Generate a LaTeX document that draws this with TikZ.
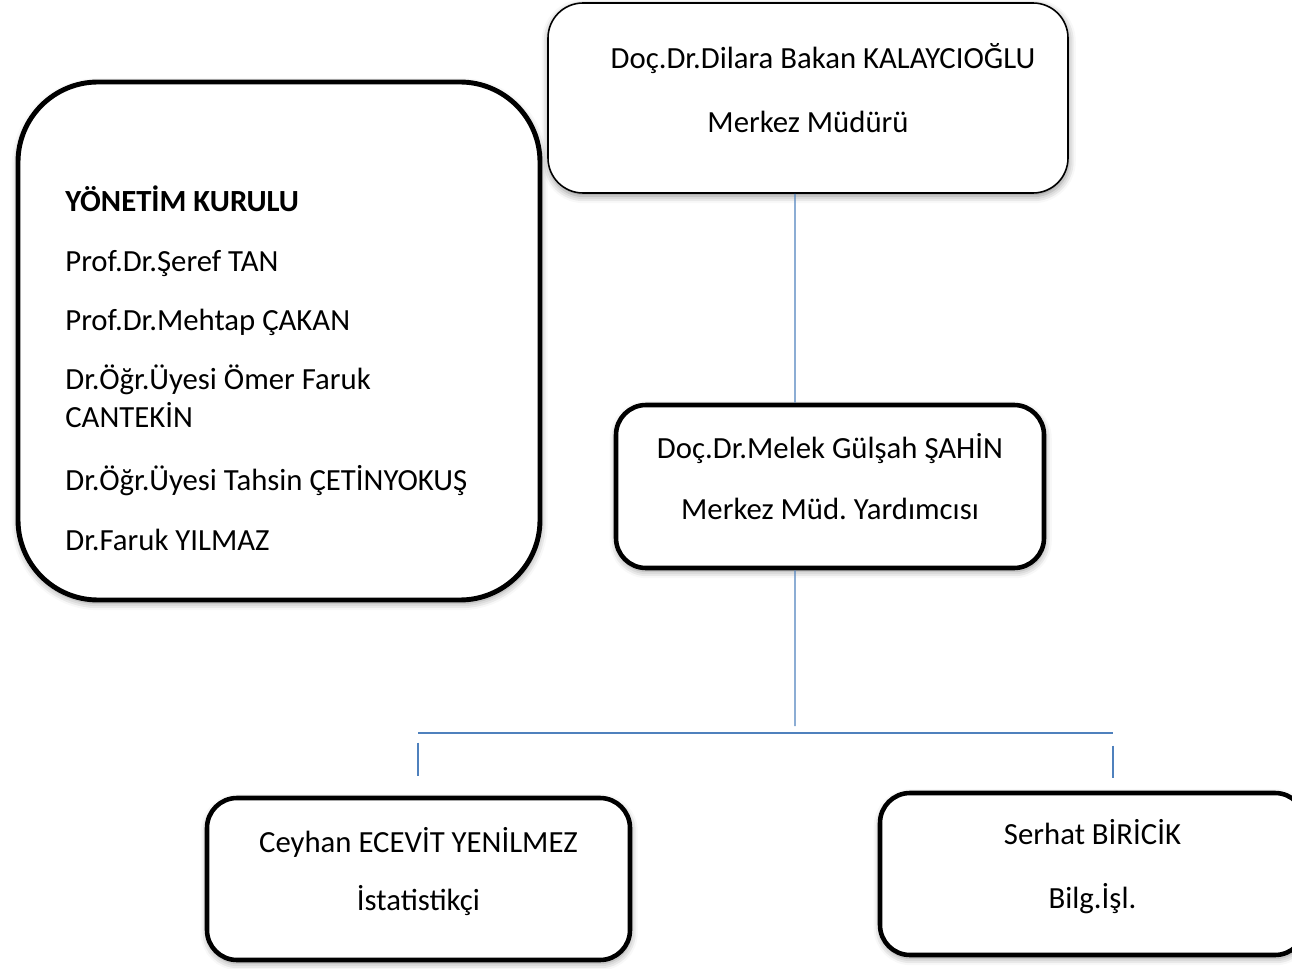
\documentclass[tikz,border=0pt]{standalone}
\usepackage{xcolor}
\usepackage{fontspec}
\setmainfont{Carlito}
\usepackage{tikz}
\usetikzlibrary{positioning, shadows.blur}

\definecolor{linkblue}{RGB}{79,129,189}
\newcommand{\liftup}{\rule[-0.4cm]{0pt}{0pt}}
\frenchspacing

\begin{document}
\begin{tikzpicture}[
    font=\fontsize{17.5}{21.5}\selectfont,
    box/.style={rectangle, draw, rounded corners=0.6cm, line width=2.6pt, fill=white, align=center, blur shadow={shadow xshift=0.4pt, shadow yshift=-1.8pt, shadow blur radius=4pt, shadow opacity=45}},
    thinbox/.style={box, line width=0.9pt, rounded corners=0.7cm},
    link/.style={draw=linkblue, line width=0.7pt}
]
    \useasboundingbox (0,0) rectangle (25.84,-19.38);

    \node[thinbox, minimum width=10.4cm, minimum height=3.8cm] (director) at (16.16,-1.96) {\hspace*{0.6cm}Doç.Dr.Dilara Bakan KALAYCIOĞLU\\[0.54cm]Merkez Müdürü\liftup};
    \node[box, rounded corners=1.6cm, line width=2.8pt, minimum width=10.44cm, minimum height=10.36cm] (board) at (5.58,-6.82) {};
    \node[anchor=north west, align=left, inner sep=0pt] (members) at (1.3,-3.7) {\textbf{YÖNETİM KURULU}\\[0.46cm]
        Prof.Dr.Şeref TAN\\[0.42cm]
        Prof.Dr.Mehtap ÇAKAN\\[0.42cm]
        Dr.Öğr.Üyesi Ömer Faruk\\
        CANTEKİN\\[0.52cm]
        Dr.Öğr.Üyesi Tahsin ÇETİNYOKUŞ\\[0.44cm]
        Dr.Faruk YILMAZ};
    \node[box, minimum width=8.56cm, minimum height=3.26cm] (deputy) at (16.6,-9.73) {Doç.Dr.Melek Gülşah ŞAHİN\\[0.46cm]Merkez Müd. Yardımcısı\liftup};
    \node[box, minimum width=8.46cm, minimum height=3.24cm] (stat) at (8.37,-17.58) {Ceyhan ECEVİT YENİLMEZ\\[0.42cm]İstatistikçi\liftup};
    \node[box, minimum width=8.5cm, minimum height=3.24cm] (it) at (21.85,-17.48) {Serhat BİRİCİK\\[0.54cm]Bilg.İşl.\liftup};

    \coordinate (drop) at (15.9,-14.52);
    \coordinate (busL) at (8.36,-14.66);
    \coordinate (busR) at (22.26,-14.66);
    \coordinate (tickL) at (busL |- stat.north);
    \coordinate (tickR) at (busR |- it.north);

    \draw[link] ([xshift=-0.26cm]director.south) -- ([xshift=-0.7cm]deputy.north);
    \draw[link] ([xshift=-0.7cm]deputy.south) -- (drop);
    \draw[link] (busL) -- (busR);
    \draw[link] ([yshift=1.06cm]tickL) -- ([yshift=0.4cm]tickL);
    \draw[link] ([yshift=0.9cm]tickR) -- ([yshift=0.26cm]tickR);
\end{tikzpicture}
\end{document}
